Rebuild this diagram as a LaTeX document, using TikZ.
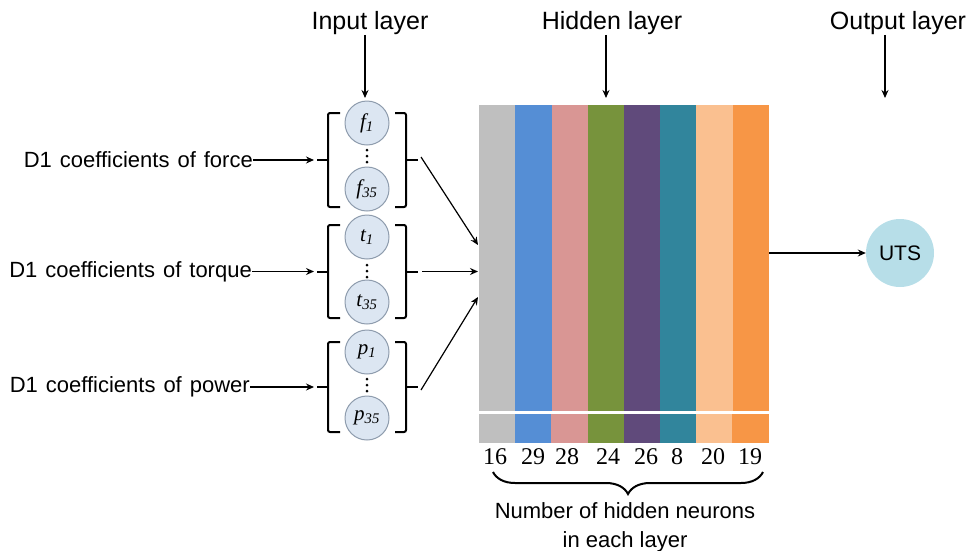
\documentclass[tikz,border=0pt]{standalone}
\usepackage{fontspec}
\setmainfont{Liberation Serif}
\setsansfont{Liberation Sans}
\usetikzlibrary{arrows.meta,decorations.pathreplacing}

\definecolor{nodefill}{HTML}{DCE6F2}
\definecolor{nodeedge}{HTML}{8E9CAD}
\definecolor{utsfill}{HTML}{B7DEE8}
\definecolor{cA}{HTML}{BFBFBF}
\definecolor{cB}{HTML}{558ED5}
\definecolor{cC}{HTML}{D99694}
\definecolor{cD}{HTML}{77933C}
\definecolor{cE}{HTML}{604A7B}
\definecolor{cF}{HTML}{31859C}
\definecolor{cG}{HTML}{FAC090}
\definecolor{cH}{HTML}{F79646}

\newcommand\widespace{\spaceskip=8pt\relax}

\begin{document}
\begin{tikzpicture}[x=1pt,y=-1pt,
  lbl/.style={font=\sffamily\fontsize{22}{26}\selectfont\widespace, inner sep=0pt},
  ttl/.style={font=\sffamily\fontsize{25}{30}\selectfont, inner sep=0pt},
  neuron/.style={circle, draw=nodeedge, fill=nodefill, line width=1pt,
    minimum size=44pt, inner sep=0pt, font=\fontsize{21}{24}\selectfont\itshape},
  arr/.style={-{Stealth[length=8pt,width=7pt]}, line width=1.2pt},
  brk/.style={line width=2pt, rounded corners=2pt},
  bar/.style={draw=none, inner sep=0pt, minimum width=36.6pt, anchor=north west},
  num/.style={font=\fontsize{24}{28}\selectfont, inner sep=0pt},
]
\useasboundingbox (0,0) rectangle (972,550);

% layer titles
\node[ttl] (tin)  at (370,23) {Input layer};
\node[ttl] (thid) at (612,23) {Hidden layer};
\node[ttl] (tout) at (898,23) {Output layer};
\coordinate (inTip)  at (365,98);
\coordinate (hidTip) at (606,98);
\coordinate (outTip) at (885,98);
\draw[arr] (tin.south -| inTip) -- (inTip);
\draw[arr] (thid.south -| hidTip) -- (hidTip);
\draw[arr] (tout.south -| outTip) -- (outTip);

% input neurons
\node[neuron] (f1)  at (367,123) {f\textsubscript{1}};
\node[neuron] (f35) at (367,189) {f\textsubscript{35}};
\node[neuron] (t1)  at (367,237) {t\textsubscript{1}};
\node[neuron] (t35) at (367,302) {t\textsubscript{35}};
\node[neuron] (p1)  at (367,352) {p\textsubscript{1}};
\node[neuron] (p35) at (367,418) {p\textsubscript{35}};
\foreach \m in {156,271,385}{
  \foreach \d in {-6,0,6}
    \fill (367,\m+\d) circle (1.5pt);
}

% brackets around each group of neurons
\foreach \g/\a/\b in {f/113/207, t/225/318, p/342/432}{
  \draw[brk] (340,\a) -- (328,\a) -- (328,\b) -- (340,\b);
  \draw[brk] (395,\a) -- (406,\a) -- (406,\b) -- (395,\b);
  \coordinate (\g L) at (317,{(\a+\b)/2});
  \coordinate (\g R) at (418,{(\a+\b)/2});
  \draw[line width=2pt] (328,{(\a+\b)/2}) -- (\g L);
  \draw[line width=2pt] (406,{(\a+\b)/2}) -- (\g R);
}

% input descriptions
\node[lbl, anchor=east] (lf) at (253,160) {D1 coefficients of force};
\node[lbl, anchor=east] (lt) at (252,271.5) {D1 coefficients of torque};
\node[lbl, anchor=east] (lp) at (250,387) {D1 coefficients of power};
\draw[arr] (lf.east) -- ([xshift=-3pt]fL);
\draw[arr] (lt.east) -- ([xshift=-3pt]tL);
\draw[arr] (lp.east) -- ([xshift=-3pt]pL);

% hidden layers
\foreach \i/\c in {1/cA,2/cB,3/cC,4/cD,5/cE,6/cF,7/cG,8/cH}{
  \node[bar, fill=\c, minimum height=306pt] (b\i) at ({479+36.2*(\i-1)},105) {};
  \fill[\c] ({479+36.2*(\i-1)},414) rectangle ++(36.6,29);
}

\coordinate (h1) at (478,245);
\coordinate (h2) at (478,271.5);
\coordinate (h3) at (478,297);
\draw[arr] ([xshift=3pt,yshift=3pt]fR) -- (h1);
\draw[arr] ([xshift=4pt]tR) -- (h2);
\draw[arr] ([xshift=3pt,yshift=-3pt]pR) -- (h3);

% output neuron
\node[circle, fill=utsfill, minimum size=68pt, inner sep=0pt,
  font=\sffamily\fontsize{21}{24}\selectfont] (uts) at (900,253) {UTS};
\draw[arr] (b8.east |- uts) -- (uts.west);

% neurons per hidden layer
\foreach \x/\n in {495/16,533/29,567/28,608/24,646/26,677/8,713/20,750/19}
  \node[num] (n\n) at (\x,457) {\n};

\draw[line width=2pt, decorate, decoration={brace, amplitude=22pt, mirror}]
  (493,472) -- (763,472);
\node[inner sep=0pt, align=center, font=\sffamily\fontsize{22}{29}\selectfont] (cap) at (625,527)
  {Number of hidden neurons\\in each layer};
\end{tikzpicture}
\end{document}
